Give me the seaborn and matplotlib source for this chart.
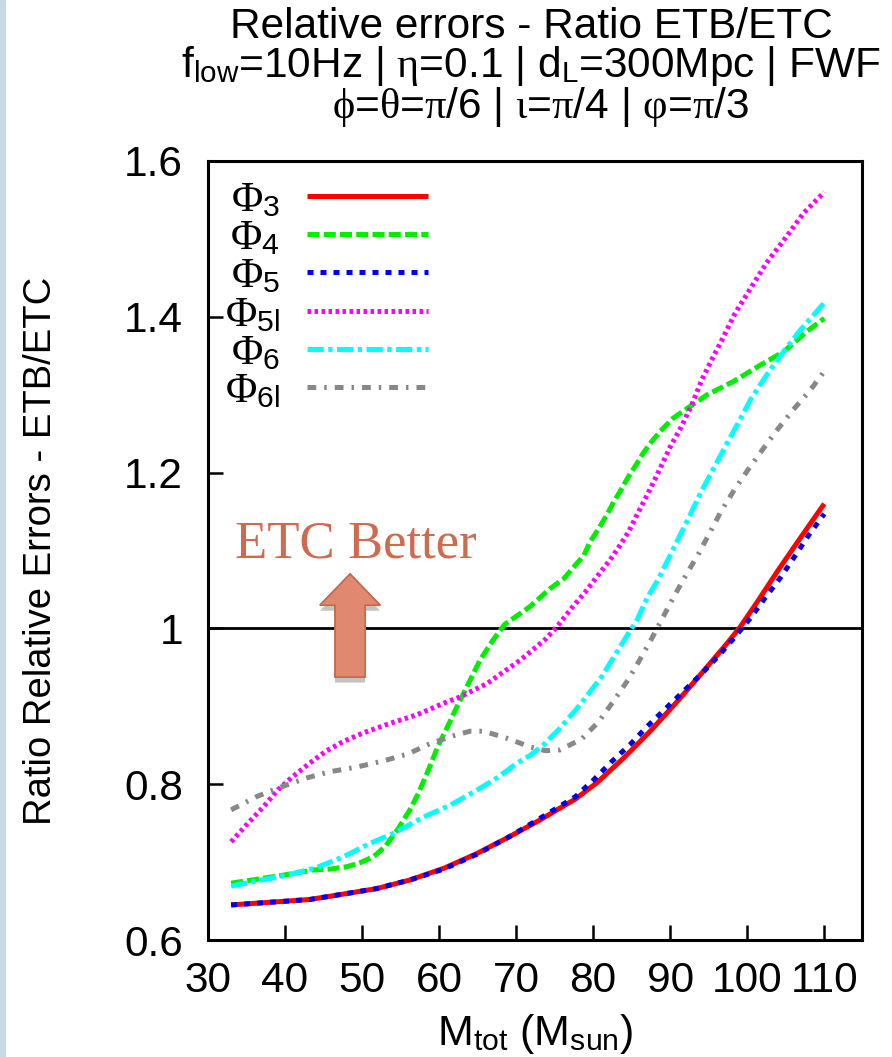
import matplotlib
matplotlib.use("Agg")
import matplotlib.pyplot as plt
import matplotlib.patheffects as pe
from matplotlib.patches import FancyArrow, Rectangle
import seaborn as sns
import pandas as pd

x3 = [33, 38.9, 43.2, 47.6, 51.9, 56.2, 60.6, 64.9, 69.2, 72.9, 77.7, 80.5, 84, 87.4, 90.9, 94.3, 97.4, 99.1, 101.3, 103.9, 106.4, 110]
y3 = [.645, .649, .652, .659, .666, .677, .692, .711, .733, .753, .781, .802, .834, .868, .906, .945, .981, 1.002, 1.034, 1.073, 1.109, 1.16]
x5 = [33, 38.9, 43.2, 47.6, 51.9, 56.2, 60.6, 64.9, 69.2, 72.9, 77.7, 80.1, 82.4, 84.8, 87, 89.4, 91.7, 94.1, 96.3, 98.4, 100.4, 102.3, 104.3, 106, 108, 110]
y5 = [.645, .649, .652, .659, .666, .677, .691, .710, .733, .755, .784, .806, .829, .851, .874, .897, .919, .942, .965, .989, 1.013, 1.039, 1.065, 1.090, 1.120, 1.147]
x4 = [33, 35.7, 39.6, 43.7, 45.8, 48, 49.7, 51.5, 53, 54.7, 56.2, 57.3, 58.6, 59.9, 61.2, 62.1, 63.6, 65.3, 67, 68.5, 71.8, 74.4, 76.2, 77.5, 78.8, 79.6, 80.7, 81.8, 82.6, 83.5, 84.6, 85.7, 86.5, 87.6, 88.9, 90.4, 92, 94.8, 98.2, 101.7, 104.7, 107.7, 110]
y4 = [.673, .677, .683, .690, .691, .694, .699, .707, .720, .743, .767, .788, .818, .850, .876, .895, .925, .959, .985, 1.005, 1.028, 1.051, 1.064, 1.079, 1.094, 1.111, 1.128, 1.146, 1.161, 1.176, 1.195, 1.212, 1.225, 1.240, 1.255, 1.270, 1.281, 1.300, 1.317, 1.338, 1.355, 1.381, 1.398]
x5l = [33, 35.2, 37.2, 39.1, 40.9, 43.2, 45.4, 47.6, 50.2, 53.6, 57.1, 60.6, 62.7, 66.2, 70.5, 73.8, 75.3, 77.2, 79, 80.7, 82.2, 83.5, 84.6, 85.7, 87, 88.1, 89.1, 90, 91.4, 92.8, 94.1, 95.4, 96.7, 98.4, 100.4, 102.5, 105.1, 107.3, 110]
y5l = [.726, .750, .771, .793, .809, .827, .843, .855, .866, .878, .889, .904, .912, .929, .959, .986, 1.002, 1.026, 1.047, 1.069, 1.088, 1.107, 1.124, 1.146, 1.171, 1.193, 1.214, 1.233, 1.258, 1.287, 1.319, 1.345, 1.370, 1.404, 1.436, 1.469, 1.503, 1.533, 1.56]
x6 = [33, 35.9, 40.2, 44.1, 47.6, 51, 54.1, 58, 61.4, 64.5, 67.5, 70.1, 71.8, 73.5, 75.7, 78.3, 81.1, 83.1, 84.6, 85.7, 87, 88.5, 89.8, 91.1, 92.6, 93.9, 95.4, 97.4, 98.9, 100.5, 102.5, 104.7, 106.9, 110]
y6 = [.669, .675, .683, .693, .707, .724, .737, .758, .773, .790, .808, .827, .837, .850, .872, .902, .938, .970, .994, 1.011, 1.039, 1.064, 1.090, 1.116, 1.146, 1.173, 1.201, 1.238, 1.265, 1.295, 1.325, 1.355, 1.383, 1.418]
x6l = [33, 36.3, 39.1, 42.8, 45.8, 49.3, 52.8, 56, 58.8, 62.1, 64, 65.8, 68.8, 71.8, 73.8, 75.7, 78.5, 80.7, 82.6, 84.4, 85.9, 87.6, 89.1, 90.6, 92.2, 93.7, 95.2, 96.7, 98.4, 100.2, 102.1, 103.9, 106, 108.2, 110]
y6l = [.767, .784, .795, .808, .816, .822, .830, .839, .852, .863, .868, .868, .859, .848, .843, .844, .858, .880, .906, .932, .957, .987, 1.015, 1.043, 1.071, 1.096, 1.124, 1.152, 1.179, 1.205, 1.231, 1.255, 1.281, 1.306, 1.330]

labels = [r"$\Phi_{\mathsf{3}}$", r"$\Phi_{\mathsf{4}}$", r"$\Phi_{\mathsf{5}}$",
          r"$\Phi_{\mathsf{5l}}$", r"$\Phi_{\mathsf{6}}$", r"$\Phi_{\mathsf{6l}}$"]
colors = ["#ff0000", "#00ee00", "#0000ee", "#ff00ff", "#00ffff", "#888888"]
dashes = [None, (2.4, 0.85), (1.2, 1.4), (0.7, 0.7), (3.25, 0.9, 0.85, 0.9), (1.75, 1.6, 0.5, 1.6)]
xs = [x3, x4, x5, x5l, x6, x6l]
ys = [y3, y4, y5, y5l, y6, y6l]
xticks = [30, 40, 50, 60, 70, 80, 90, 100, 110]
yticks = [0.6, 0.8, 1.0, 1.2, 1.4, 1.6]
yticklabels = ["0.6", "0.8", "1", "1.2", "1.4", "1.6"]

sns.set_theme(style="white")
plt.rcParams["font.family"] = "Liberation Sans"
plt.rcParams["mathtext.fontset"] = "custom"
plt.rcParams["mathtext.rm"] = "Liberation Serif"
plt.rcParams["mathtext.sf"] = "Liberation Sans"
plt.rcParams["mathtext.it"] = "Liberation Serif"

fig = plt.figure(figsize=(8.92, 10.57), dpi=100)
W, H = 892, 1057
ax = fig.add_axes([208 / W, 1 - 940 / H, (862 - 208) / W, (940 - 161) / H])
fig.patches.append(Rectangle((0, 0), 5 / W, 1, transform=fig.transFigure, color="#c9d9e1", zorder=0))

for i in range(6):
    df = pd.DataFrame({"x": xs[i], "y": ys[i]})
    sns.lineplot(data=df, x="x", y="y", ax=ax, color=colors[i], lw=3.6, label=labels[i], errorbar=None)
    line = ax.get_lines()[-1]
    line.set_solid_capstyle("butt")
    line.set_dash_capstyle("butt")
    line.set_solid_joinstyle("round")
    if dashes[i] is not None:
        line.set_dashes(dashes[i])

ax.axhline(1.0, color="black", lw=2, zorder=1.5)

ax.set_xlim(30, 114.9)
ax.set_ylim(0.6, 1.6)
ax.set_xticks(xticks)
ax.set_yticks(yticks)
ax.set_yticklabels(yticklabels)
ax.tick_params(axis="both", direction="in", length=11, width=1.8, color="black",
               labelsize=30.5, labelcolor="black", left=True, bottom=True)
ax.tick_params(axis="x", pad=15)
ax.tick_params(axis="y", pad=18)
for s in ax.spines.values():
    s.set_visible(True)
    s.set_color("black")
    s.set_linewidth(2.2)

ax.set_xlabel(r"M$_{\mathsf{tot}}$ (M$_{\mathsf{sun}}$)", fontsize=31, color="black", labelpad=8)
ax.set_ylabel("Ratio Relative Errors - ETB/ETC", fontsize=27.5, color="black", labelpad=47)

for txt, cx, by in [
    ("Relative errors - Ratio ETB/ETC", 531, 38),
    (r"f$_{\mathsf{low}}$=10Hz | $\eta$=0.1 | d$_{\mathsf{L}}$=300Mpc | FWF", 531, 77),
    (r"$\phi$=$\theta$=$\pi$/6 | $\iota$=$\pi$/4 | $\varphi$=$\pi$/3", 540, 118),
]:
    fig.text(cx / W, 1 - by / H, txt, ha="center", va="baseline", fontsize=30.5, color="black")

leg = ax.legend(loc="upper left", bbox_to_anchor=(225 / W, 1 - 180 / H), bbox_transform=fig.transFigure,
                frameon=False, markerfirst=False, fontsize=31, handlelength=2.8, handletextpad=0.63,
                labelspacing=-0.04, borderpad=0, borderaxespad=0)
for t in leg.get_texts():
    t.set_color("black")

ax.text(49.2, 1.108, "ETC Better", ha="center", va="center", fontsize=38,
        family="Liberation Serif", color="#cf6a4f")
arrow = FancyArrow(48.44, 0.9376, 0, 0.1322, width=3.9, head_width=7.8, head_length=0.04,
                   length_includes_head=True, facecolor="#e08870", edgecolor="#c46a50", lw=1.2, zorder=4,
                   path_effects=[pe.withSimplePatchShadow(offset=(0, -4), shadow_rgbFace="#555555", alpha=0.35),
                                 pe.Normal()])
ax.add_patch(arrow)

fig.savefig("out.png", dpi=100)
